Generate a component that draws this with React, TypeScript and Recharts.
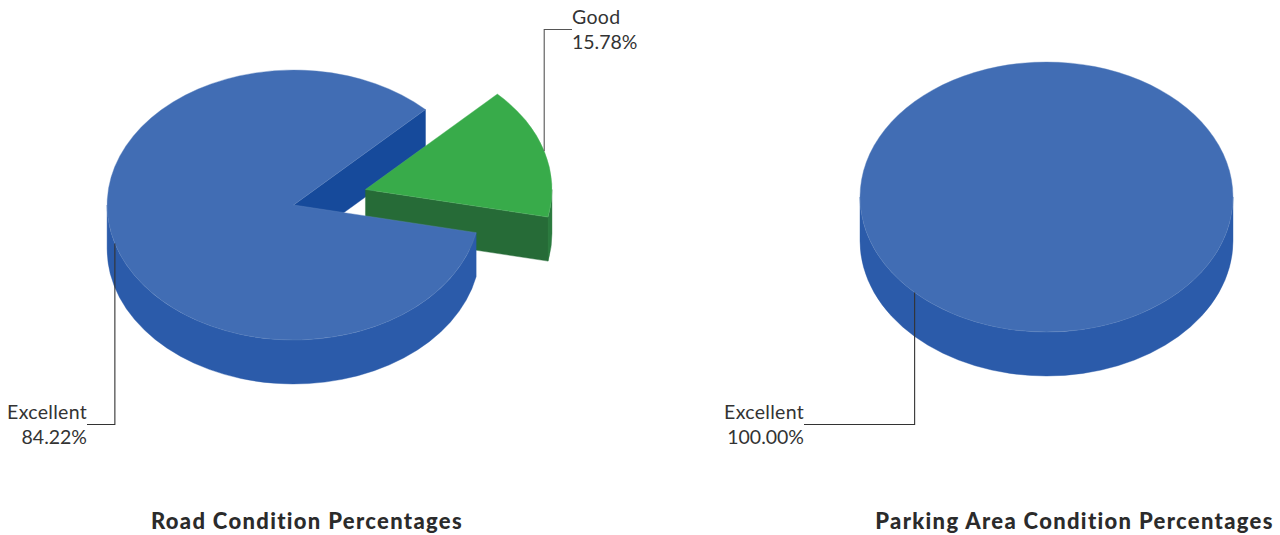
import React from 'react';
import { PieChart, Pie } from 'recharts';

const roadNames = ['Good', 'Excellent'];
const roadValues = [15.78, 84.22];
const parkingNames = ['Excellent'];
const parkingValues = [100];
const titles = ['Road Condition Percentages', 'Parking Area Condition Percentages'];

const roadData = roadNames.map((name, i) => ({ name, value: roadValues[i] }));
const parkingData = parkingNames.map((name, i) => ({ name, value: parkingValues[i] }));

const FONT = 'Lato, "Open Sans", sans-serif';
const TILT = 135 / 186.5;
const DEPTH = 44;
const EXPLODE: Record<string, number> = { Good: 75 };
const COLORS: Record<string, { top: string; wall: string; cut: string; edge: string }> = {
  Excellent: { top: '#416DB4', wall: '#2B5BAA', cut: '#164A9B', edge: '#5F85C0' },
  Good: { top: '#38AB4A', wall: '#2A7A3E', cut: '#266B37', edge: '#58B868' },
};

const rad = (a: number) => (a * Math.PI) / 180;

function geometry(props: any) {
  const { cx, cy, outerRadius: r, startAngle, endAngle, midAngle, payload, name } = props;
  const key = name ?? payload?.name;
  const off = EXPLODE[key] ?? 0;
  const ox = cx + off * Math.cos(rad(midAngle));
  const oy = cy - off * TILT * Math.sin(rad(midAngle));
  const pt = (a: number, d = 0) => [ox + r * Math.cos(rad(a)), oy - r * TILT * Math.sin(rad(a)) + d];
  const s = Math.max(startAngle, endAngle);
  const e = Math.min(startAngle, endAngle);
  return { key, ox, oy, r, pt, s, e };
}

function arc(g: any, from: number, to: number, d: number, move: boolean) {
  // from > to draws clockwise on screen, from < to counter-clockwise.
  const steps = Math.ceil(Math.abs(from - to) / 170) || 1;
  const sweep = from > to ? 1 : 0;
  let out = '';
  for (let i = 1; i <= steps; i++) {
    const a = from + ((to - from) * i) / steps;
    const [x, y] = g.pt(a, d);
    out += ` A ${g.r} ${g.r * TILT} 0 0 ${sweep} ${x} ${y}`;
  }
  if (move) {
    const [x0, y0] = g.pt(from, d);
    out = `M ${x0} ${y0}` + out;
  }
  return out;
}

function outerWalls(g: any, fill: string) {
  const paths: React.ReactElement[] = [];
  [0, -360].forEach((k) => {
    const hi = Math.min(g.s, k);
    const lo = Math.max(g.e, -180 + k);
    if (hi > lo) {
      const [bx, by] = g.pt(lo, DEPTH);
      const d = arc(g, hi, lo, 0, true) + ` L ${bx} ${by}` + arc(g, lo, hi, DEPTH, false) + ' Z';
      paths.push(<path key={k} d={d} fill={fill} stroke={fill} strokeWidth={0.4} />);
    }
  });
  return paths;
}

function cutWall(g: any, fill: string) {
  if (g.s - g.e >= 359.9) return null;
  const [x, y] = g.pt(g.e);
  const d = `M ${g.ox} ${g.oy} L ${x} ${y} L ${x} ${y + DEPTH} L ${g.ox} ${g.oy + DEPTH} Z`;
  return <path d={d} fill={fill} stroke={fill} strokeWidth={0.4} />;
}

function UnderShape(props: any) {
  const g = geometry(props);
  if (EXPLODE[g.key]) return <g />;
  return <g>{cutWall(g, COLORS[g.key].cut)}</g>;
}

function MainShape(props: any) {
  const g = geometry(props);
  const c = COLORS[g.key];
  const full = g.s - g.e >= 359.9;
  const top = full
    ? arc(g, g.s, g.e, 0, true) + ' Z'
    : arc(g, g.s, g.e, 0, true) + ` L ${g.ox} ${g.oy} Z`;
  return (
    <g>
      {EXPLODE[g.key] ? cutWall(g, c.cut) : null}
      {outerWalls(g, c.wall)}
      <path d={top} fill={c.top} stroke={c.edge} strokeWidth={0.4} />
    </g>
  );
}

const makeLabel = (elbowY: number, textX: number, anchor: string, strokeColor: string) => (props: any) => {
  const g = geometry(props);
  const [ax, ay] = g.pt(props.midAngle);
  const pct = `${Number(props.value).toFixed(2)}%`;
  return (
    <g>
      <polyline
        points={`${ax},${ay} ${ax},${elbowY} ${textX},${elbowY}`}
        fill="none"
        stroke={strokeColor}
        strokeWidth={1.1}
      />
      <text x={textX} y={elbowY - 6} textAnchor={anchor} fontFamily={FONT} fontSize={19.5} letterSpacing={0.3} fill="#333">
        {g.key}
      </text>
      <text x={textX} y={elbowY + 19} textAnchor={anchor} fontFamily={FONT} fontSize={19.5} fill="#333">
        {pct}
      </text>
    </g>
  );
};

const roadLabel = (props: any) =>
  props.name === 'Good' || props.payload?.name === 'Good'
    ? makeLabel(29.5, 572, 'start', '#555')(props)
    : makeLabel(424.5, 87, 'end', '#333')(props);
const parkingLabel = makeLabel(424.5, 804, 'end', '#333');

export default function App() {
  return (
    <div style={{ position: 'absolute', left: 0, top: 0, width: 1280, height: 535 }}>
      <PieChart width={1280} height={535} margin={{ top: 0, right: 0, bottom: 0, left: 0 }}>
        <Pie
          data={roadData}
          dataKey="value"
          nameKey="name"
          cx={293.6}
          cy={205}
          outerRadius={186.5}
          startAngle={45}
          endAngle={-315}
          stroke="none"
          isAnimationActive={false}
          shape={UnderShape}
        />
        <Pie
          data={roadData}
          dataKey="value"
          nameKey="name"
          cx={293.6}
          cy={205}
          outerRadius={186.5}
          startAngle={45}
          endAngle={-315}
          stroke="none"
          isAnimationActive={false}
          shape={MainShape}
          label={roadLabel}
          labelLine={false}
        />
        <Pie
          data={parkingData}
          dataKey="value"
          nameKey="name"
          cx={1046.5}
          cy={197}
          outerRadius={186.5}
          startAngle={45}
          endAngle={-315}
          stroke="none"
          isAnimationActive={false}
          shape={MainShape}
          label={parkingLabel}
          labelLine={false}
        />
        <text x={307} y={529} textAnchor="middle" fontFamily={FONT} fontWeight={900} fontSize={22} letterSpacing={1.32} fill="#2b2b2b">
          {titles[0]}
        </text>
        <text x={1074.5} y={529} textAnchor="middle" fontFamily={FONT} fontWeight={900} fontSize={22} letterSpacing={1.32} fill="#2b2b2b">
          {titles[1]}
        </text>
      </PieChart>
    </div>
  );
}
